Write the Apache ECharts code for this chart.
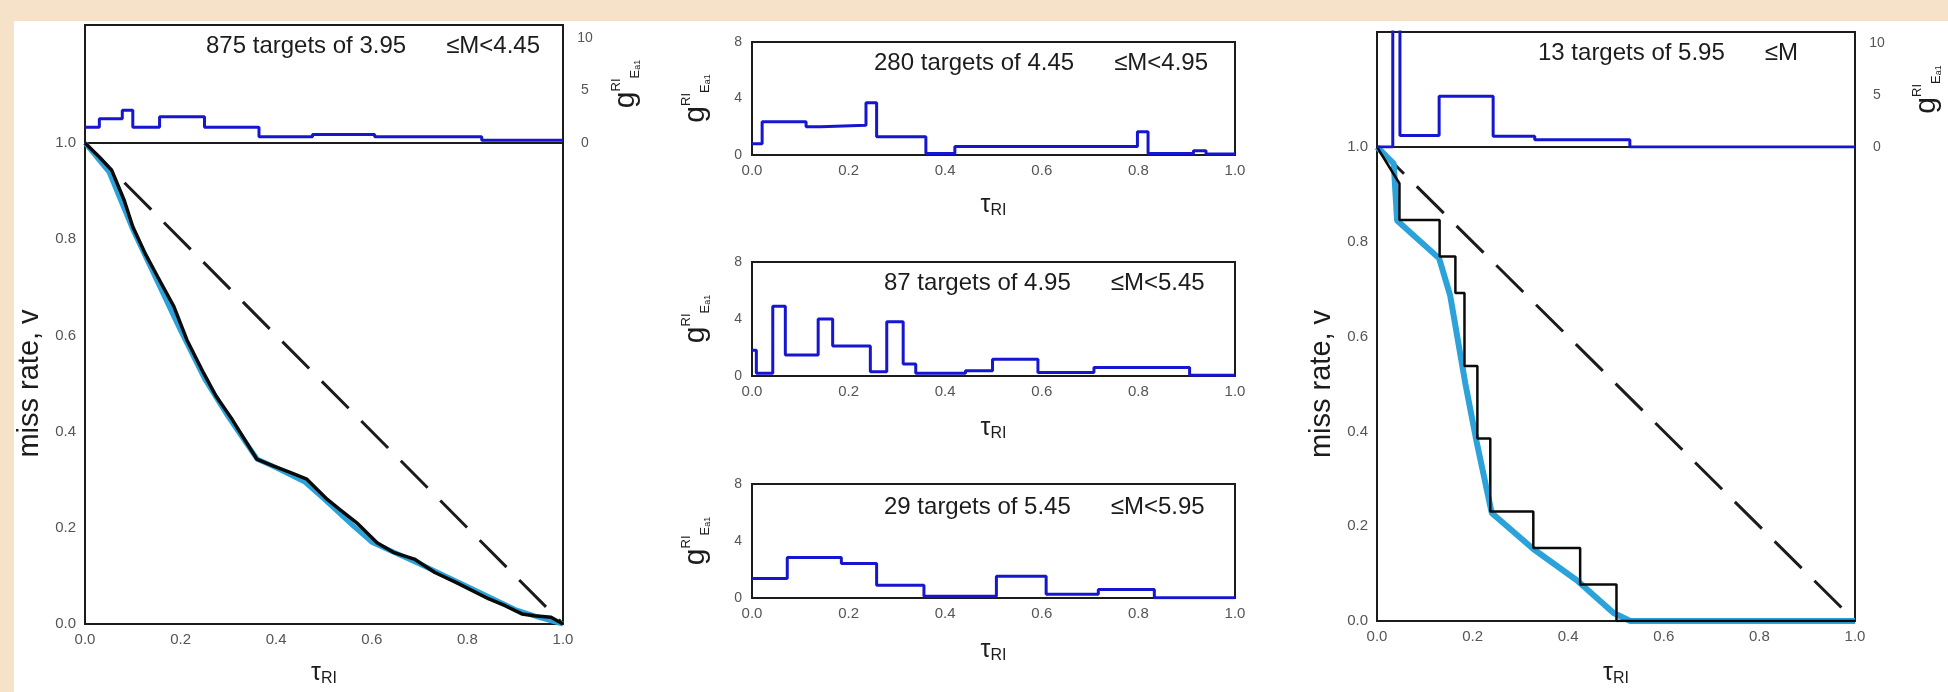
<!DOCTYPE html>
<html>
<head>
<meta charset="utf-8">
<script src="https://cdn.jsdelivr.net/npm/echarts@6/dist/echarts.min.js"></script>
<style>
  html, body { margin:0; padding:0; background:#f5e2c9; width:1948px; height:692px; overflow:hidden; }
  #panel { position:absolute; left:14px; top:21px; right:0; bottom:0; background:#ffffff; }
  #chart { position:absolute; left:0; top:0; width:1948px; height:692px; }
</style>
</head>
<body>
<div id="panel"></div>
<div id="chart"></div>
<script>
// ---------- tick labels ----------
const tauTicks = [0.0, 0.2, 0.4, 0.6, 0.8, 1.0];
const missTicks = [0.0, 0.2, 0.4, 0.6, 0.8, 1.0];
const histTicksTop = [0, 5, 10];
const histTicksMid = [0, 4, 8];

// ---------- panel titles ----------
const titleA = '875 targets of 3.95      \u2264M<4.45';
const titleB1 = '280 targets of 4.45      \u2264M<4.95';
const titleB2 = '87 targets of 4.95      \u2264M<5.45';
const titleB3 = '29 targets of 5.45      \u2264M<5.95';
const titleC = '13 targets of 5.95      \u2264M';

// ---------- Panel A: 3.95 <= M < 4.45 ----------
const histA_edges = [0, 0.03, 0.078, 0.1, 0.156, 0.25, 0.364, 0.476, 0.606, 0.83, 1.0];
const histA_vals  = [1.5, 2.3, 3.1, 1.5, 2.5, 1.5, 0.6, 0.8, 0.6, 0.25];
const curveA_tau = [0, 0.03, 0.056, 0.082, 0.1, 0.126, 0.152, 0.186, 0.213, 0.248, 0.274, 0.308, 0.36, 0.395, 0.429, 0.464, 0.507, 0.532, 0.568, 0.611, 0.645, 0.689, 0.732, 0.776, 0.845, 0.879, 0.914, 0.94, 0.975, 1.0];
const curveA_v   = [1, 0.971, 0.943, 0.881, 0.826, 0.77, 0.722, 0.66, 0.591, 0.522, 0.474, 0.425, 0.342, 0.328, 0.315, 0.301, 0.259, 0.239, 0.211, 0.169, 0.149, 0.135, 0.107, 0.0865, 0.052, 0.038, 0.021, 0.017, 0.014, 0];
const fitA_tau = [0, 0.05, 0.1, 0.15, 0.2, 0.25, 0.3, 0.36, 0.4, 0.46, 0.5, 0.56, 0.6, 0.7, 0.8, 0.9, 0.95, 1.0];
const fitA_v   = [1, 0.94, 0.82, 0.715, 0.61, 0.51, 0.43, 0.343, 0.325, 0.295, 0.26, 0.205, 0.17, 0.125, 0.078, 0.03, 0.014, 0];

// ---------- Panel B1: 4.45 <= M < 4.95 ----------
const histB1_edges = [0, 0.021, 0.112, 0.142, 0.236, 0.258, 0.36, 0.42, 0.798, 0.82, 0.914, 0.94, 1.0];
const histB1_vals  = [0.8, 2.35, 2.0, 2.1, 3.7, 1.3, 0.1, 0.6, 1.65, 0.1, 0.3, 0.07];

// ---------- Panel B2: 4.95 <= M < 5.45 ----------
const histB2_edges = [0, 0.009, 0.043, 0.069, 0.137, 0.167, 0.245, 0.279, 0.313, 0.339, 0.442, 0.498, 0.592, 0.708, 0.906, 1.0];
const histB2_vals  = [1.8, 0.2, 4.9, 1.47, 4.0, 2.1, 0.3, 3.8, 0.84, 0.2, 0.37, 1.17, 0.25, 0.6, 0.05];

// ---------- Panel B3: 5.45 <= M < 5.95 ----------
const histB3_edges = [0, 0.073, 0.185, 0.258, 0.356, 0.506, 0.609, 0.717, 0.833, 1.0];
const histB3_vals  = [1.36, 2.84, 2.42, 0.89, 0.12, 1.53, 0.26, 0.59, 0.02];

// ---------- Panel C: 5.95 <= M ----------
const histC_edges = [0, 0.033, 0.048, 0.13, 0.243, 0.33, 0.529, 1.0];
const histC_vals  = [0, 14, 1.1, 4.9, 1.03, 0.7, 0];
const stepC_tau = [0, 0.047, 0.047, 0.131, 0.131, 0.164, 0.164, 0.183, 0.183, 0.21, 0.21, 0.237, 0.237, 0.327, 0.327, 0.425, 0.425, 0.501, 0.501, 1.0];
const stepC_v   = [1, 0.923, 0.846, 0.846, 0.769, 0.769, 0.692, 0.692, 0.538, 0.538, 0.385, 0.385, 0.231, 0.231, 0.154, 0.154, 0.077, 0.077, 0, 0];
const fitC_tau = [0, 0.035, 0.042, 0.13, 0.153, 0.185, 0.208, 0.24, 0.327, 0.418, 0.495, 0.53, 1.0];
const fitC_v   = [1, 0.965, 0.845, 0.765, 0.687, 0.5, 0.38, 0.228, 0.152, 0.086, 0.017, 0, 0];

// random-guess reference line
const diag_tau = [0, 1];
const diag_v   = [1, 0];

// ---------- helpers ----------
function pairs(xs, ys) { return xs.map((x, i) => [x, ys[i]]); }
function histPoints(edges, vals) {
  const pts = [];
  vals.forEach((v, i) => { pts.push([edges[i], v]); pts.push([edges[i + 1], v]); });
  return pts;
}

const FONT = 'Liberation Sans, Arial, sans-serif';
const INK = '#1c1c1c';
const BLUE = '#1616d0';
const CYAN = '#2ba3da';
const tickStyle = { fontSize: 15, color: '#555', fontFamily: FONT };

const gRich = {
  g:    { fontSize: 30, color: INK, fontFamily: FONT, lineHeight: 32 },
  sup:  { fontSize: 13, color: INK, fontFamily: FONT, verticalAlign: 'top', lineHeight: 14 },
  sub:  { fontSize: 13, color: INK, fontFamily: FONT, verticalAlign: 'bottom', lineHeight: 14 },
  sub2: { fontSize: 9,  color: INK, fontFamily: FONT, verticalAlign: 'bottom', lineHeight: 10 }
};
const gName = '{g|g}{sup|RI}{sub|E}{sub2|a1}';
const tauRich = {
  t: { fontSize: 25, color: INK, fontFamily: FONT, lineHeight: 28 },
  s: { fontSize: 16, color: INK, fontFamily: FONT, verticalAlign: 'bottom', lineHeight: 18 }
};
const tauName = '{t|\u03c4}{s|RI}';

const gridBase = { show: true, borderColor: INK, borderWidth: 2, backgroundColor: 'transparent', containLabel: false };
const grids = [
  Object.assign({ left: 85,   top: 143, width: 478, height: 482 }, gridBase), // 0 A main
  Object.assign({ left: 85,   top: 25,  width: 478, height: 118 }, gridBase), // 1 A hist
  Object.assign({ left: 752,  top: 42,  width: 483, height: 113 }, gridBase), // 2 B1
  Object.assign({ left: 752,  top: 262, width: 483, height: 114 }, gridBase), // 3 B2
  Object.assign({ left: 752,  top: 484, width: 483, height: 114 }, gridBase), // 4 B3
  Object.assign({ left: 1377, top: 147, width: 478, height: 483 }, gridBase), // 5 C main
  Object.assign({ left: 1377, top: 32,  width: 478, height: 115 }, gridBase)  // 6 C hist
];

function xAxisLabeled(gi, gap) {
  return {
    type: 'value', gridIndex: gi, min: tauTicks[0], max: tauTicks[tauTicks.length - 1],
    interval: tauTicks[1] - tauTicks[0],
    axisLine: { show: false }, axisTick: { show: false }, splitLine: { show: false },
    axisLabel: Object.assign({ margin: 8, formatter: v => v.toFixed(1) }, tickStyle),
    name: tauName, nameLocation: 'middle', nameGap: gap, nameTextStyle: { rich: tauRich }
  };
}
function xAxisBare(gi) {
  return {
    type: 'value', gridIndex: gi, min: 0, max: 1,
    axisLine: { show: false }, axisTick: { show: false }, splitLine: { show: false }, axisLabel: { show: false }
  };
}
function yMain(gi) {
  return {
    type: 'value', gridIndex: gi, min: missTicks[0], max: missTicks[missTicks.length - 1],
    interval: missTicks[1] - missTicks[0],
    axisLine: { show: false }, axisTick: { show: false }, splitLine: { show: false },
    axisLabel: Object.assign({ margin: 9, formatter: v => v.toFixed(1) }, tickStyle),
    name: 'miss rate, v', nameLocation: 'middle', nameGap: 41,
    nameTextStyle: { fontSize: 29, color: INK, fontFamily: FONT }
  };
}
function yHistTop(gi, max, gap) {
  return {
    type: 'value', gridIndex: gi, position: 'right', min: histTicksTop[0], max: max,
    interval: histTicksTop[1] - histTicksTop[0],
    axisLine: { show: false }, axisTick: { show: false }, splitLine: { show: false },
    axisLabel: Object.assign({ margin: 22, align: 'center', showMaxLabel: false }, tickStyle, { fontSize: 14 }),
    name: gName, nameLocation: 'middle', nameGap: gap, nameTextStyle: { rich: gRich }
  };
}
function yHistMid(gi) {
  return {
    type: 'value', gridIndex: gi, min: histTicksMid[0], max: histTicksMid[histTicksMid.length - 1],
    interval: histTicksMid[1] - histTicksMid[0],
    axisLine: { show: false }, axisTick: { show: false }, splitLine: { show: false },
    axisLabel: Object.assign({ margin: 10 }, tickStyle, { fontSize: 14 }),
    name: gName, nameLocation: 'middle', nameGap: 40, nameTextStyle: { rich: gRich }
  };
}

function line(xi, data, color, width, extra) {
  return Object.assign({
    type: 'line', xAxisIndex: xi, yAxisIndex: xi, data: data,
    showSymbol: false, symbol: 'none', animation: false, clip: true, silent: true,
    lineStyle: { color: color, width: width }
  }, extra || {});
}
const dashStyle = (xi) => line(xi, pairs(diag_tau, diag_v), INK, 3, {
  lineStyle: { color: INK, width: 3, type: [38, 18], cap: 'butt' }, z: 1
});

const titleStyle = { fontSize: 24, fontWeight: 'normal', color: INK, fontFamily: FONT };
const titles = [
  { text: titleA,  left: 206,  top: 34 },
  { text: titleB1, left: 874,  top: 51 },
  { text: titleB2, left: 884,  top: 271 },
  { text: titleB3, left: 884,  top: 495 },
  { text: titleC,  left: 1538, top: 41 }
].map(t => Object.assign({ padding: 0, textStyle: titleStyle }, t));

const option = {
  backgroundColor: 'transparent',
  animation: false,
  title: titles,
  grid: grids,
  xAxis: [
    xAxisLabeled(0, 35), xAxisBare(1), xAxisLabeled(2, 36), xAxisLabeled(3, 38), xAxisLabeled(4, 38),
    xAxisLabeled(5, 38), xAxisBare(6)
  ],
  yAxis: [
    yMain(0), yHistTop(1, 11.2, 47), yHistMid(2), yHistMid(3), yHistMid(4), yMain(5), yHistTop(6, 11.1, 56)
  ],
  series: [
    // Panel A
    dashStyle(0),
    line(0, pairs(fitA_tau, fitA_v), CYAN, 5, { z: 2 }),
    line(0, pairs(curveA_tau, curveA_v), '#0a0a0a', 3.5, { z: 3 }),
    line(1, histPoints(histA_edges, histA_vals), BLUE, 3, { z: 3 }),
    // Panel B
    line(2, histPoints(histB1_edges, histB1_vals), BLUE, 3, { z: 3 }),
    line(3, histPoints(histB2_edges, histB2_vals), BLUE, 3, { z: 3 }),
    line(4, histPoints(histB3_edges, histB3_vals), BLUE, 3, { z: 3 }),
    // Panel C
    dashStyle(5),
    line(5, pairs(fitC_tau, fitC_v), CYAN, 6, { z: 2 }),
    line(5, pairs(stepC_tau, stepC_v), '#0a0a0a', 2.5, { z: 3 }),
    line(6, histPoints(histC_edges, histC_vals), BLUE, 3, { z: 3 })
  ]
};

const chart = echarts.init(document.getElementById('chart'), null, { renderer: 'canvas', width: 1948, height: 692 });
chart.setOption(option);
</script>
</body>
</html>
